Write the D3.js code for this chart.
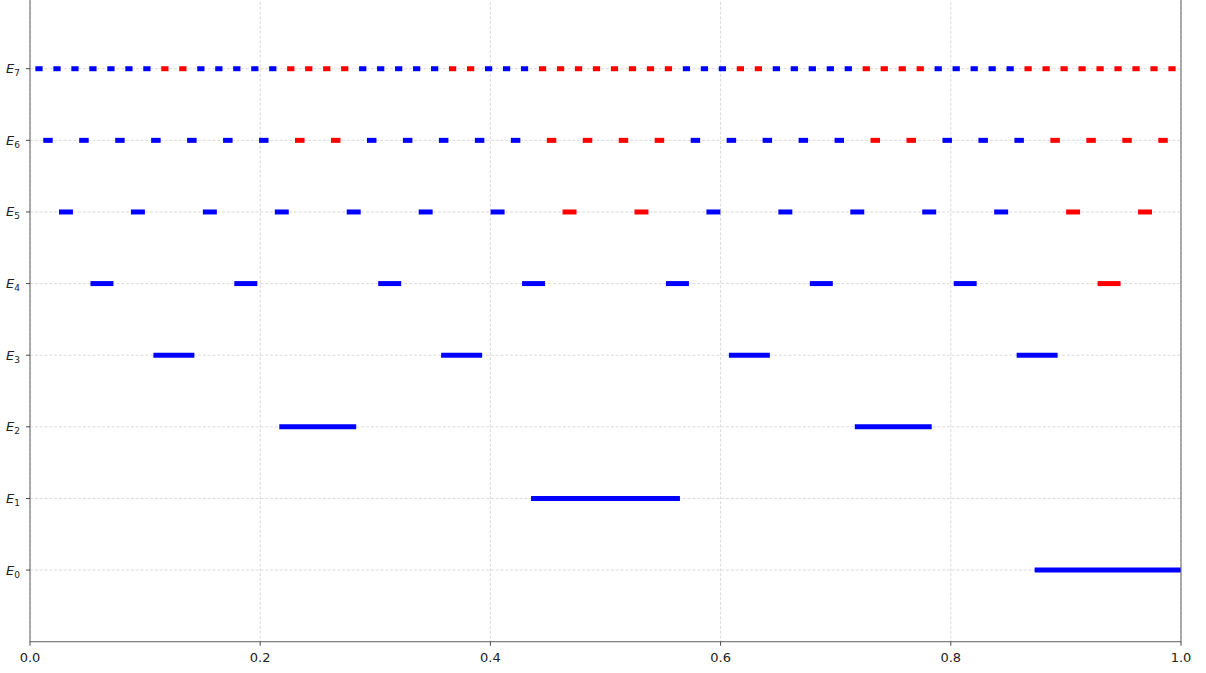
<!DOCTYPE html>
<html><head><meta charset="utf-8">
<script src="https://cdn.jsdelivr.net/npm/d3@7"></script>
<style>body{margin:0;background:#fff}svg{display:block}</style>
</head><body><svg id="c" width="1206" height="673"></svg>
<script>
// level labels (index = subscript)
const levelLabels = ["0","1","2","3","4","5","6","7"];
// interval centres per level
const centersE0 = [1.0];
const centersE1 = [0.5];
const centersE2 = [0.25, 0.75];
const centersE3 = [0.125, 0.375, 0.625, 0.875];
const centersE4 = [0.0625, 0.1875, 0.3125, 0.4375, 0.5625, 0.6875, 0.8125, 0.9375];
const centersE5 = [0.03125, 0.09375, 0.15625, 0.21875, 0.28125, 0.34375, 0.40625, 0.46875,
  0.53125, 0.59375, 0.65625, 0.71875, 0.78125, 0.84375, 0.90625, 0.96875];
const centersE6 = [0.015625, 0.046875, 0.078125, 0.109375, 0.140625, 0.171875, 0.203125, 0.234375,
  0.265625, 0.296875, 0.328125, 0.359375, 0.390625, 0.421875, 0.453125, 0.484375,
  0.515625, 0.546875, 0.578125, 0.609375, 0.640625, 0.671875, 0.703125, 0.734375,
  0.765625, 0.796875, 0.828125, 0.859375, 0.890625, 0.921875, 0.953125, 0.984375];
const centersE7 = [0.0078125, 0.0234375, 0.0390625, 0.0546875, 0.0703125, 0.0859375, 0.1015625, 0.1171875,
  0.1328125, 0.1484375, 0.1640625, 0.1796875, 0.1953125, 0.2109375, 0.2265625, 0.2421875,
  0.2578125, 0.2734375, 0.2890625, 0.3046875, 0.3203125, 0.3359375, 0.3515625, 0.3671875,
  0.3828125, 0.3984375, 0.4140625, 0.4296875, 0.4453125, 0.4609375, 0.4765625, 0.4921875,
  0.5078125, 0.5234375, 0.5390625, 0.5546875, 0.5703125, 0.5859375, 0.6015625, 0.6171875,
  0.6328125, 0.6484375, 0.6640625, 0.6796875, 0.6953125, 0.7109375, 0.7265625, 0.7421875,
  0.7578125, 0.7734375, 0.7890625, 0.8046875, 0.8203125, 0.8359375, 0.8515625, 0.8671875,
  0.8828125, 0.8984375, 0.9140625, 0.9296875, 0.9453125, 0.9609375, 0.9765625, 0.9921875];
// half-width of each interval, per level
const halfWidths = [0.125, 0.0625, 0.03125, 0.015625, 0.0078125, 0.00390625, 0.001953125, 0.0009765625];
// indices of red intervals per level
const redE0 = [];
const redE1 = [];
const redE2 = [];
const redE3 = [];
const redE4 = [7];
const redE5 = [7, 8, 14, 15];
const redE6 = [7, 8, 14, 15, 16, 17, 23, 24, 28, 29, 30, 31];
const redE7 = [7, 8, 14, 15, 16, 17, 23, 24, 28, 29, 30, 31, 32, 33, 34, 35, 39, 40,
  46, 47, 48, 49, 55, 56, 57, 58, 59, 60, 61, 62, 63];
const xTicks = [0.0, 0.2, 0.4, 0.6, 0.8, 1.0];
const xTickLabels = ["0.0", "0.2", "0.4", "0.6", "0.8", "1.0"];

const allCenters = [centersE0, centersE1, centersE2, centersE3, centersE4, centersE5, centersE6, centersE7];
const allRed = [redE0, redE1, redE2, redE3, redE4, redE5, redE6, redE7];

const svg = d3.select("#c");
const L = 30, R = 1181, B = 641.7, T = -2.9;
const x = d3.scaleLinear().domain([0, 1]).range([L, R]);
const y = d3.scaleLinear().domain([-1, 8]).range([B, T]);

svg.append("defs").append("clipPath").attr("id", "clip")
  .append("rect").attr("x", L).attr("y", T).attr("width", R - L).attr("height", B - T);

// grid
const grid = svg.append("g");
xTicks.forEach(t => grid.append("line").attr("x1", x(t)).attr("x2", x(t)).attr("y1", T).attr("y2", B)
  .attr("stroke", "#d0d0d0").attr("stroke-width", 0.8).attr("stroke-dasharray", "3,1.8"));
levelLabels.forEach((l, i) => grid.append("line").attr("x1", L).attr("x2", R).attr("y1", y(i)).attr("y2", y(i))
  .attr("stroke", "#d0d0d0").attr("stroke-width", 0.8).attr("stroke-dasharray", "3,1.8"));

// intervals
const marks = svg.append("g").attr("clip-path", "url(#clip)");
allCenters.forEach((cs, lvl) => {
  const h = halfWidths[lvl];
  marks.selectAll(null).data(cs).enter().append("line")
    .attr("x1", c => x(c - h)).attr("x2", c => x(c + h))
    .attr("y1", y(lvl)).attr("y2", y(lvl))
    .attr("stroke", (c, i) => allRed[lvl].includes(i) ? "#ff0000" : "#0000ff")
    .attr("stroke-width", 5).attr("stroke-linecap", "square");
});

// spines
const sp = svg.append("g").attr("stroke", "#6e6e6e").attr("stroke-width", 1.1).attr("fill", "none");
sp.append("rect").attr("x", L).attr("y", T).attr("width", R - L).attr("height", B - T);

// x axis ticks
const xa = svg.append("g");
xTicks.forEach((t, i) => {
  xa.append("line").attr("x1", x(t)).attr("x2", x(t)).attr("y1", B).attr("y2", B + 4).attr("stroke", "#333").attr("stroke-width", 0.9);
  xa.append("text").attr("x", x(t)).attr("y", B + 20).attr("text-anchor", "middle")
    .attr("font-family", "DejaVu Sans").attr("font-size", 13).attr("fill", "#222").text(xTickLabels[i]);
});
// y axis ticks
const ya = svg.append("g");
levelLabels.forEach((l, i) => {
  ya.append("line").attr("x1", L - 4).attr("x2", L).attr("y1", y(i)).attr("y2", y(i)).attr("stroke", "#333").attr("stroke-width", 0.9);
  const t = ya.append("text").attr("x", L - 10).attr("y", y(i) + 4.5).attr("text-anchor", "end")
    .attr("font-family", "DejaVu Sans").attr("fill", "#222");
  t.append("tspan").attr("font-size", 13).attr("font-style", "italic").text("E");
  t.append("tspan").attr("font-size", 9).attr("dy", 3).text(l);
});
</script></body></html>
